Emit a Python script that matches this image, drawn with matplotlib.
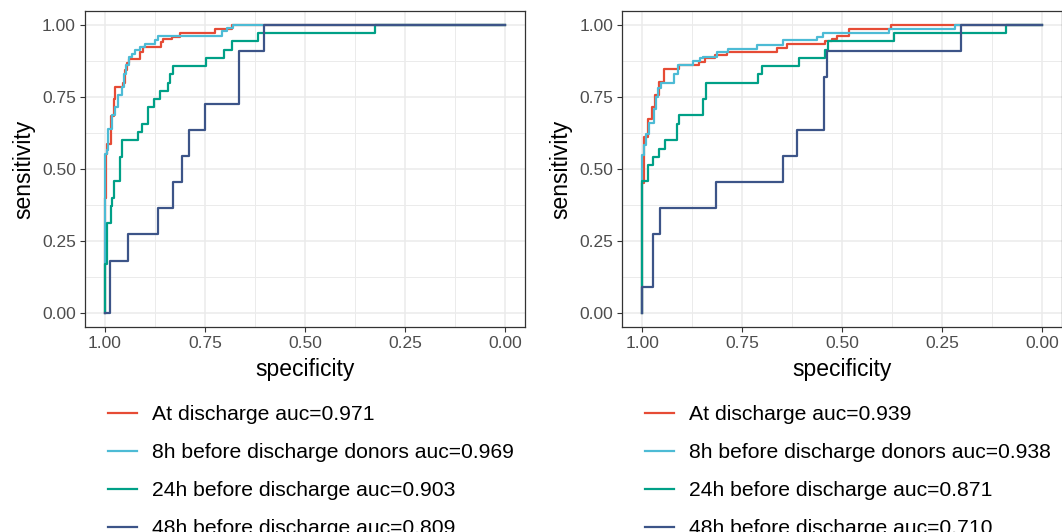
import numpy as np
import matplotlib
matplotlib.use("Agg")
import matplotlib.pyplot as plt

plt.rcParams['font.family'] = ['Liberation Sans', 'DejaVu Sans']

# colours (npg palette)
colors = ['#E64B35', '#4DBBD5', '#00A087', '#3C5488']
names = ['At discharge', '8h before discharge donors',
         '24h before discharge', '48h before discharge']

# ---- left panel: ROC corner points (specificity, sensitivity) ----
left_auc = [0.971, 0.969, 0.903, 0.809]
left_spec_at = [1.0, 1.0, 0.9975, 0.994, 0.986, 0.9775, 0.975, 0.954, 0.95, 0.944,
                0.939, 0.9125, 0.904, 0.861, 0.854, 0.833, 0.8125, 0.725, 0.683, 0.0]
left_sens_at = [0.0, 0.40, 0.553, 0.588, 0.683, 0.744, 0.785, 0.80, 0.843, 0.868,
                0.883, 0.906, 0.924, 0.941, 0.951, 0.959, 0.971, 0.986, 1.0, 1.0]
left_spec_8h = [1.0, 1.0, 0.996, 0.992, 0.983, 0.975, 0.967, 0.958, 0.9525, 0.9475,
                0.939, 0.933, 0.925, 0.9125, 0.9, 0.875, 0.867, 0.708, 0.696, 0.679, 0.0]
left_sens_8h = [0.0, 0.553, 0.565, 0.64, 0.686, 0.715, 0.756, 0.785, 0.831, 0.86,
                0.889, 0.9, 0.912, 0.924, 0.935, 0.947, 0.962, 0.979, 0.99, 1.0, 1.0]
left_spec_24h = [1.0, 1.0, 0.996, 0.986, 0.982, 0.9775, 0.9625, 0.957, 0.917, 0.908,
                 0.893, 0.877, 0.8625, 0.843, 0.8375, 0.829, 0.7475, 0.703, 0.682,
                 0.618, 0.325, 0.0]
left_sens_24h = [0.0, 0.171, 0.314, 0.371, 0.4, 0.457, 0.543, 0.6, 0.629, 0.657,
                 0.714, 0.743, 0.771, 0.8, 0.829, 0.857, 0.886, 0.914, 0.943,
                 0.971, 1.0, 1.0]
left_spec_48h = [1.0, 0.988, 0.943, 0.868, 0.829, 0.808, 0.789, 0.75, 0.665, 0.6025, 0.0]
left_sens_48h = [0.0, 0.182, 0.273, 0.364, 0.455, 0.545, 0.636, 0.727, 0.909, 1.0, 1.0]

# ---- right panel ----
right_auc = [0.939, 0.938, 0.871, 0.710]
right_spec_at = [1.0, 1.0, 0.996, 0.985, 0.975, 0.968, 0.9575, 0.945, 0.9075, 0.8575,
                 0.843, 0.818, 0.789, 0.664, 0.639, 0.543, 0.5265, 0.514, 0.4825,
                 0.379, 0.0]
right_sens_at = [0.0, 0.45, 0.611, 0.675, 0.715, 0.756, 0.802, 0.848, 0.862, 0.873,
                 0.887, 0.896, 0.906, 0.92, 0.934, 0.943, 0.952, 0.962, 0.986,
                 1.0, 1.0]
right_spec_8h = [1.0, 1.0, 0.995, 0.991, 0.9825, 0.97, 0.966, 0.9615, 0.953, 0.92,
                 0.9115, 0.8725, 0.856, 0.8475, 0.814, 0.785, 0.714, 0.649, 0.564,
                 0.5475, 0.3825, 0.218, 0.0]
right_sens_8h = [0.0, 0.55, 0.583, 0.62, 0.66, 0.71, 0.75, 0.78, 0.80, 0.83,
                 0.861, 0.875, 0.885, 0.89, 0.905, 0.918, 0.9305, 0.948, 0.96,
                 0.971, 0.986, 1.0, 1.0]
right_spec_24h = [1.0, 1.0, 0.985, 0.9725, 0.958, 0.944, 0.9125, 0.9075, 0.8475, 0.842,
                  0.71, 0.702, 0.608, 0.543, 0.535, 0.372, 0.0915, 0.0]
right_sens_24h = [0.0, 0.457, 0.514, 0.543, 0.571, 0.6, 0.657, 0.686, 0.743, 0.8,
                  0.829, 0.857, 0.886, 0.914, 0.943, 0.971, 1.0, 1.0]
right_spec_48h = [1.0, 1.0, 0.9725, 0.956, 0.817, 0.6475, 0.614, 0.546, 0.539, 0.204, 0.0]
right_sens_48h = [0.0, 0.091, 0.273, 0.364, 0.455, 0.545, 0.636, 0.818, 0.909, 1.0, 1.0]

tick_vals = [1.0, 0.75, 0.5, 0.25, 0.0]
tick_labels = ['1.00', '0.75', '0.50', '0.25', '0.00']

fig = plt.figure(figsize=(10.62, 5.32), dpi=100)
ax1 = fig.add_axes([85 / 1062, 1 - 327.4 / 532, 440 / 1062, 316.8 / 532])
ax2 = fig.add_axes([622.3 / 1062, 1 - 327.4 / 532, 440 / 1062, 316.8 / 532])

panels = [
    (ax1, left_auc, [(left_spec_at, left_sens_at), (left_spec_8h, left_sens_8h),
                     (left_spec_24h, left_sens_24h), (left_spec_48h, left_sens_48h)], 108),
    (ax2, right_auc, [(right_spec_at, right_sens_at), (right_spec_8h, right_sens_8h),
                      (right_spec_24h, right_sens_24h), (right_spec_48h, right_sens_48h)], 645),
]

for ax, aucs, curves, leg_x in panels:
    handles = []
    for (sp, se), col in zip(curves, colors):
        h, = ax.step(sp, se, where='post', color=col, lw=1.6)
        handles.append(h)
    ax.set_xlim(1.05, -0.05)
    ax.set_ylim(-0.05, 1.05)
    ax.set_xticks(tick_vals)
    ax.set_xticklabels(tick_labels)
    ax.set_yticks(tick_vals[::-1])
    ax.set_yticklabels(tick_labels[::-1])
    ax.set_xticks([0.875, 0.625, 0.375, 0.125], minor=True)
    ax.set_yticks([0.875, 0.625, 0.375, 0.125], minor=True)
    ax.grid(which='major', color='#EBEBEB', lw=1.1)
    ax.grid(which='minor', color='#EBEBEB', lw=0.7)
    ax.set_axisbelow(True)
    ax.tick_params(which='minor', length=0)
    ax.tick_params(which='major', length=3.5, width=0.8, color='#333333',
                   labelsize=12.5, labelcolor='#4D4D4D', pad=3)
    for s in ax.spines.values():
        s.set_color('#333333')
        s.set_linewidth(0.9)
    ax.set_xlabel('specificity', fontsize=16.5, labelpad=5)
    ax.set_ylabel('sensitivity', fontsize=16.5, labelpad=5)
    labels = [f'{n} auc={a:.3f}' for n, a in zip(names, aucs)]
    ax.legend(handles, labels, loc='upper left',
              bbox_to_anchor=(leg_x / 1062, 1 - 405 / 532),
              bbox_transform=fig.transFigure, frameon=False, fontsize=15.2,
              handlelength=1.35, handletextpad=0.75, labelspacing=0.9,
              borderpad=0, borderaxespad=0)

fig.savefig('out.png', dpi=100)
